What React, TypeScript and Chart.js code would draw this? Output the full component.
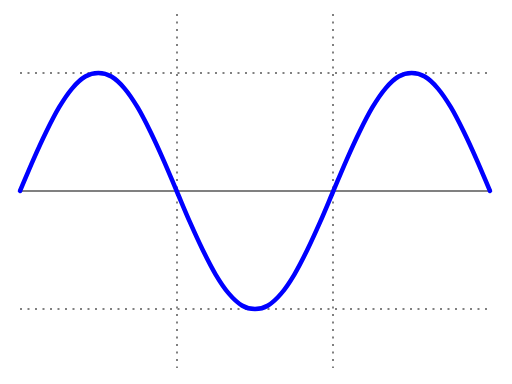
import React, { useEffect, useRef } from "react";
import { Chart, registerables } from "chart.js";

Chart.register(...registerables);

// angle in degrees (0 .. 540 = 0 .. 3π)
const angles = [
  0, 15, 30, 45, 60, 75, 90, 105, 120, 135, 150, 165, 180, 195, 210, 225, 240, 255, 270,
  285, 300, 315, 330, 345, 360, 375, 390, 405, 420, 435, 450, 465, 480, 495, 510, 525, 540,
];
const waveValues = [
  0, 0.26, 0.5, 0.71, 0.87, 0.97, 1, 0.97, 0.87, 0.71, 0.5, 0.26, 0, -0.26, -0.5, -0.71, -0.87,
  -0.97, -1, -0.97, -0.87, -0.71, -0.5, -0.26, 0, 0.26, 0.5, 0.71, 0.87, 0.97, 1, 0.97, 0.87,
  0.71, 0.5, 0.26, 0,
];
const baselineX = [0, 540];
const baselineY = [0, 0];
const xGridValues = [180, 360];
const yGridValues = [-1, 1];

export default function App() {
  const ref = useRef<HTMLCanvasElement>(null);
  useEffect(() => {
    if (!ref.current) return;
    const chart = new Chart(ref.current, {
      type: "line",
      data: {
        datasets: [
          {
            data: angles.map((a, i) => ({ x: a, y: waveValues[i] })),
            borderColor: "#0000ff",
            borderWidth: 4.5,
            borderCapStyle: "round",
            borderJoinStyle: "round",
            pointRadius: 0,
            tension: 0.4,
            cubicInterpolationMode: "monotone",
            fill: false,
            clip: false as any,
          },
          {
            data: baselineX.map((x, i) => ({ x, y: baselineY[i] })),
            borderColor: "#808080",
            borderWidth: 2,
            pointRadius: 0,
            fill: false,
          },
        ],
      },
      options: {
        animation: false,
        responsive: false,
        layout: { padding: { left: 20, right: 22, top: 14, bottom: 16 } },
        plugins: { legend: { display: false }, tooltip: { enabled: false } },
        scales: {
          x: {
            type: "linear",
            min: 0,
            max: 540,
            afterBuildTicks: (scale: any) => {
              scale.ticks = xGridValues.map((v) => ({ value: v }));
            },
            ticks: { display: false },
            border: { display: false, dash: [2, 5.5] },
            grid: { drawTicks: false, lineWidth: 2, color: "#808080" },
          },
          y: {
            type: "linear",
            min: -1.5,
            max: 1.5,
            afterBuildTicks: (scale: any) => {
              scale.ticks = yGridValues.map((v) => ({ value: v }));
            },
            ticks: { display: false },
            border: { display: false, dash: [2, 5.5] },
            grid: { drawTicks: false, lineWidth: 2, color: "#808080" },
          },
        },
      },
    });
    return () => chart.destroy();
  }, []);
  return (
    <div style={{ position: "absolute", left: 0, top: 0, width: 512, height: 384, background: "#fff" }}>
      <canvas ref={ref} width={512} height={384} />
    </div>
  );
}
